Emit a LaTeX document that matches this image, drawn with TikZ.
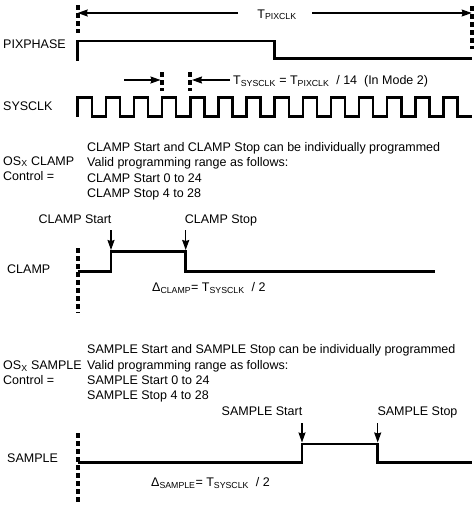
\documentclass[tikz,border=0pt]{standalone}
\usepackage{fontspec}
\setmainfont{Liberation Sans}
\usetikzlibrary{arrows.meta, positioning}

\tikzset{
    wave/.style={line width=2.5pt, line join=miter},
    marker/.style={line width=4pt, dash pattern=on 5pt off 3pt},
    pointer/.style={line width=1.3pt, -{Stealth[length=10pt, width=7pt, inset=1pt]}},
    txt/.style={inner sep=0pt, font=\fontsize{12.5}{15}\selectfont},
}
\newcommand{\lowtxt}[1]{\textsubscript{#1}}

\begin{document}
\begin{tikzpicture}[x=1pt, y=-1pt]
    \useasboundingbox (0,0) rectangle (476,514);

    % Period markers for PIXCLK
    \draw[marker] (77.7,5) -- (77.7,33);
    \draw[marker] (471.7,6) -- (471.7,49);
    \coordinate (pixL) at (77.7,13);
    \coordinate (pixR) at (471.7,13);
    \node[txt, anchor=base] (tpix) at (277,18) {T\lowtxt{PIXCLK}};
    \draw[pointer] (238,13) -- (pixL);
    \draw[pointer] (312,13) -- (pixR);

    % PIXPHASE
    \node[txt, anchor=base west] (pixname) at (3,48.5) {PIXPHASE};
    \draw[wave] (77.7,60.5) -- (77.7,41) -- (274.3,41) -- (274.3,58.3) -- (471.7,58.3);

    % SYSCLK period
    \draw[marker] (162.1,72) -- (162.1,91);
    \draw[marker] (190.3,72) -- (190.3,91);
    \coordinate (sysL) at (160.5,80);
    \coordinate (sysR) at (192,80);
    \draw[pointer] (124,80) -- (sysL);
    \draw[pointer] (230,80) -- (sysR);
    \node[txt, anchor=base west] (tsys) at (233,84.5) {T\lowtxt{SYSCLK} = T\lowtxt{PIXCLK}\ \ / 14\ \ (In Mode 2)};

    % SYSCLK
    \node[txt, anchor=base west] (sysname) at (3,110.5) {SYSCLK};
    \draw[wave] (77.7,116.5) \foreach \k in {1,...,14} {
        -- ++(0,-19) -- ++(14.07,0) -- ++(0,19) -- ++(14.07,0)};

    % CLAMP control text
    \node[txt, anchor=base west] (clampos) at (3,165) {OS\lowtxt{X} CLAMP};
    \node[txt, anchor=base west] (clampctl) at (3,180) {Control =};
    \node[txt, anchor=base west] (clampt1) at (87,151.5) {CLAMP Start and CLAMP Stop can be individually programmed};
    \node[txt, anchor=base west] (clampt2) at (87,166.5) {Valid programming range as follows:};
    \node[txt, anchor=base west] (clampt3) at (87,182) {CLAMP Start 0 to 24};
    \node[txt, anchor=base west] (clampt4) at (87,197) {CLAMP Stop 4 to 28};

    % CLAMP
    \node[txt, anchor=base] (clampon) at (75,223.5) {CLAMP Start};
    \node[txt, anchor=base] (clampoff) at (221,223.5) {CLAMP Stop};
    \node[txt, anchor=base west] (clampname) at (7,273.5) {CLAMP};
    \draw[marker] (77.7,248) -- (77.7,313);
    \coordinate (clampup) at (111,250);
    \coordinate (clampdown) at (185.7,250);
    \draw[pointer] (111,230) -- (clampup);
    \draw[pointer] (185.7,230) -- (clampdown);
    \draw[wave] (77.7,271.7) -- (111,271.7) -- (111,251.7) -- (185.7,251.7) -- (185.7,271.7) -- (435,271.7);
    \node[txt, anchor=base west] (clampdelta) at (152,291.5) {Δ\lowtxt{CLAMP}= T\lowtxt{SYSCLK}\ \ / 2};

    % SAMPLE control text
    \node[txt, anchor=base west] (sampos) at (3,369.5) {OS\lowtxt{X} SAMPLE};
    \node[txt, anchor=base west] (sampctl) at (3,384) {Control =};
    \node[txt, anchor=base west] (sampt1) at (87,353.5) {SAMPLE Start and SAMPLE Stop can be individually programmed};
    \node[txt, anchor=base west] (sampt2) at (87,369.5) {Valid programming range as follows:};
    \node[txt, anchor=base west] (sampt3) at (87,384.5) {SAMPLE Start 0 to 24};
    \node[txt, anchor=base west] (sampt4) at (87,399.5) {SAMPLE Stop 4 to 28};

    % SAMPLE
    \node[txt, anchor=base] (sampon) at (262,415.5) {SAMPLE Start};
    \node[txt, anchor=base] (sampoff) at (417.5,415.5) {SAMPLE Stop};
    \node[txt, anchor=base west] (sampname) at (7,462.5) {SAMPLE};
    \draw[marker] (77.7,433) -- (77.7,504);
    \coordinate (sampup) at (302,442.5);
    \coordinate (sampdown) at (377.7,442.5);
    \draw[pointer] (302,423) -- (sampup);
    \draw[pointer] (377.7,423) -- (sampdown);
    \draw[wave] (77.7,462.7) -- (302,462.7) -- (302,444) -- (377.7,444) -- (377.7,462.7) -- (471.7,462.7);
    \node[txt, anchor=base west] (sampdelta) at (151,486.5) {Δ\lowtxt{SAMPLE}= T\lowtxt{SYSCLK}\ \ / 2};
\end{tikzpicture}
\end{document}
